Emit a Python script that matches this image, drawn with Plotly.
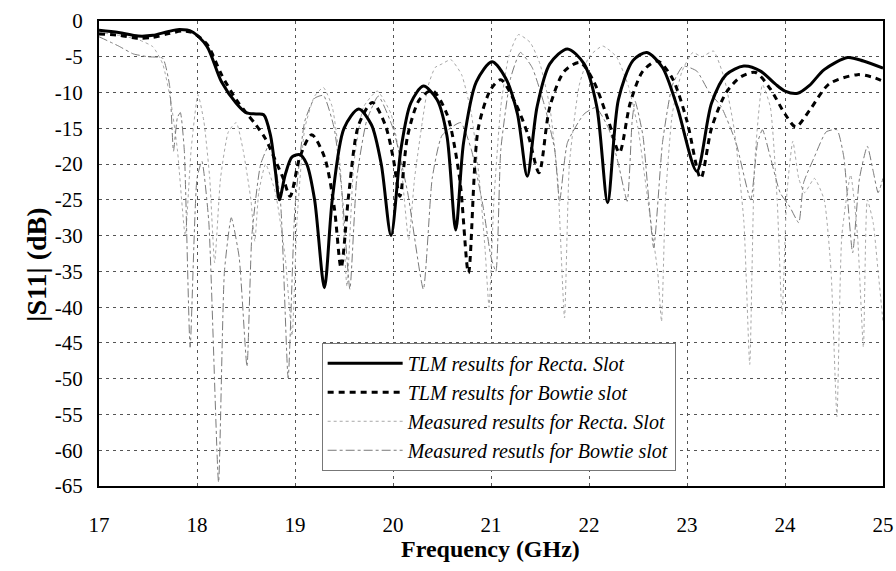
import plotly.graph_objects as go

# TLM results, rectangular slot (solid)
tlm_recta_f = [17.0, 17.2, 17.4, 17.55, 17.7, 17.82, 17.95, 18.1, 18.25, 18.4, 18.5, 18.6, 18.68, 18.75, 18.8, 18.84,
               18.9, 18.97, 19.05, 19.12, 19.2, 19.3, 19.38, 19.5, 19.65, 19.78, 19.88, 19.98, 20.08, 20.18, 20.31,
               20.45, 20.55, 20.64, 20.72, 20.85, 21.01, 21.15, 21.27, 21.37, 21.47, 21.6, 21.78, 21.95, 22.08, 22.19,
               22.3, 22.45, 22.59, 22.75, 22.9, 23.1, 23.25, 23.4, 23.58, 23.75, 23.9, 24.0, 24.13, 24.25, 24.4,
               24.64, 24.8, 25.0]
tlm_recta_db = [-1.3, -1.6, -2.1, -2.0, -1.5, -1.2, -1.5, -3.5, -8.5, -11.5, -12.8, -13.0, -13.1, -16, -21, -25,
                -21.5, -19, -18.7, -20, -25, -37.3, -25, -15, -12.3, -14.5, -20, -30, -18, -11.5, -9.1,
                -11, -16, -29.2, -17, -8.5, -5.7, -8, -13, -21.7, -12, -6, -3.9, -6, -12, -25.4,
                -11, -5.5, -4.4, -6.5, -12, -21, -11.5, -7.5, -6.3, -7.0, -8.8, -9.8, -10.1, -9.0, -6.8,
                -5.1, -5.6, -6.6]

# TLM results, bowtie slot (dashed)
tlm_bow_f = [17.0, 17.2, 17.4, 17.55, 17.7, 17.85, 17.95, 18.1, 18.25, 18.4, 18.5, 18.6, 18.7, 18.8, 18.88, 18.95,
             19.05, 19.17, 19.3, 19.4, 19.47, 19.55, 19.65, 19.79, 19.92, 20.0, 20.07, 20.15, 20.27, 20.4, 20.55,
             20.68, 20.77, 20.87, 21.0, 21.1, 21.25, 21.38, 21.49, 21.6, 21.75, 21.91, 22.05, 22.2, 22.31, 22.42,
             22.55, 22.7, 22.85, 23.0, 23.14, 23.25, 23.4, 23.55, 23.7, 23.85, 24.0, 24.11, 24.25, 24.45, 24.74,
             24.88, 25.0]
tlm_bow_db = [-1.8, -2.0, -2.4, -2.3, -1.8, -1.4, -1.6, -3.2, -7.5, -11, -12.8, -14.5, -16.5, -19.5, -22, -24.5,
              -19, -15.9, -19, -26, -34.5, -24, -14.5, -11.4, -14.5, -19, -24.5, -16, -11, -9.7, -13,
              -22, -35.2, -15, -9.5, -8.2, -11.5, -16, -21.2, -12, -7, -5.8, -8.5, -14, -18.4, -11.5,
              -7, -5.6, -8, -14, -22, -15, -10, -7.8, -7.2, -9.5, -13, -14.8, -12.5, -8.8, -7.5,
              -7.8, -8.4]

# Measured results, rectangular slot (light dotted)
meas_recta_f = [17.0, 17.2, 17.4, 17.55, 17.65, 17.73, 17.8, 17.88, 17.94, 18.01, 18.07, 18.13, 18.18, 18.24, 18.32,
                18.4, 18.47, 18.55, 18.59, 18.63, 18.7, 18.8, 18.9, 18.97, 19.02, 19.1, 19.2, 19.29, 19.38, 19.46,
                19.53, 19.6, 19.7, 19.84, 19.98, 20.08, 20.16, 20.22, 20.3, 20.36, 20.43, 20.5, 20.59, 20.7, 20.8,
                20.88, 20.94, 20.98, 21.03, 21.1, 21.18, 21.28, 21.4, 21.5, 21.6, 21.68, 21.75, 21.8, 21.9, 22.0,
                22.14, 22.28, 22.4, 22.5, 22.6, 22.7, 22.74, 22.78, 22.85, 22.95, 23.06, 23.15, 23.27, 23.38, 23.48,
                23.58, 23.64, 23.69, 23.77, 23.85, 23.92, 23.97, 24.02, 24.08, 24.14, 24.2, 24.3, 24.4, 24.47, 24.53,
                24.58, 24.67, 24.74, 24.8, 24.84, 24.9, 24.95, 25.0]
meas_recta_db = [-1.6, -2.0, -2.6, -3.6, -6.0, -11, -18, -30, -18, -10.3, -14, -22, -33.8, -22, -15.5,
                 -14.2, -18, -25, -30.8, -24, -20, -24, -33, -44, -28, -15, -10.5, -9.3, -12, -20,
                 -37.1, -20, -12, -9.8, -13, -20, -30.6, -22, -14, -9, -6.5, -6.0, -5.4, -7.5, -13,
                 -22, -32, -40, -25, -12, -5, -1.9, -3, -6, -12, -22, -41.5, -20, -9, -5,
                 -3.5, -5, -9, -15, -25, -35, -42, -25, -13, -7, -4.4, -5, -4.2, -8, -15,
                 -28, -48, -20, -8.9, -12, -25, -41, -24, -16.8, -22, -24, -22, -25, -35, -55.3,
                 -30, -21.5, -30, -45.6, -25, -28.2, -35, -42]

# Measured results, bowtie slot (gray dash-dot)
meas_bow_f = [17.0, 17.2, 17.35, 17.5, 17.65, 17.72, 17.76, 17.8, 17.83, 17.87, 17.93, 18.0, 18.05, 18.12, 18.22,
              18.28, 18.35, 18.43, 18.51, 18.56, 18.65, 18.75, 18.85, 18.93, 19.0, 19.1, 19.2, 19.29, 19.4, 19.48,
              19.56, 19.63, 19.73, 19.85, 20.0, 20.15, 20.31, 20.4, 20.5, 20.69, 20.8, 20.92, 21.0, 21.05, 21.1,
              21.2, 21.3, 21.42, 21.55, 21.65, 21.7, 21.78, 21.95, 22.07, 22.2, 22.3, 22.39, 22.44, 22.47, 22.55,
              22.66, 22.75, 22.85, 22.96, 23.1, 23.22, 23.35, 23.5, 23.65, 23.72, 23.77, 23.85, 23.95, 24.05, 24.14,
              24.19, 24.3, 24.42, 24.53, 24.6, 24.69, 24.76, 24.84, 24.9, 24.95, 25.0]
meas_bow_db = [-2.2, -3.5, -4.6, -5.0, -5.2, -9, -18.2, -13.5, -12.8, -18, -45.6, -22, -19.6, -28, -64.5,
               -35, -27.5, -33, -48.3, -30, -20, -17, -25, -49.9, -26, -14, -10.8, -10.4, -15, -24,
               -37.5, -22, -14, -10.5, -15, -24, -37.5, -22, -16, -14.2, -18, -26, -33, -35, -18,
               -8, -4.4, -6.5, -12, -18, -25.2, -17, -13, -12.1, -15, -20, -25.2, -14, -11.2, -16,
               -31.7, -17, -9, -6.3, -7, -9.8, -12, -17, -25, -17, -15.2, -19, -24, -26, -28.2,
               -22.6, -19, -15.5, -15.2, -19, -32.4, -22, -17.5, -21, -24, -22]

x_ticks = [17, 18, 19, 20, 21, 22, 23, 24, 25]
y_ticks = [0, -5, -10, -15, -20, -25, -30, -35, -40, -45, -50, -55, -60, -65]

legend_names = ["TLM results for Recta. Slot", "TLM results for Bowtie slot",
                "Measured results for Recta. Slot", "Measured resutls for Bowtie slot"]
x_title = "Frequency (GHz)"
y_title = "|S11| (dB)"

SERIF = "serif"

fig = go.Figure()
fig.add_trace(go.Scatter(x=meas_recta_f, y=meas_recta_db, mode="lines", name=legend_names[2], legendrank=3,
                         line=dict(color="#a8a8a8", width=1, dash="dot", shape="spline", smoothing=0.5)))
fig.add_trace(go.Scatter(x=meas_bow_f, y=meas_bow_db, mode="lines", name=legend_names[3], legendrank=4,
                         line=dict(color="#7a7a7a", width=1, dash="dashdot", shape="spline", smoothing=0.5)))
fig.add_trace(go.Scatter(x=tlm_recta_f, y=tlm_recta_db, mode="lines", name=legend_names[0], legendrank=1,
                         line=dict(color="black", width=3, shape="spline", smoothing=0.8)))
fig.add_trace(go.Scatter(x=tlm_bow_f, y=tlm_bow_db, mode="lines", name=legend_names[1], legendrank=2,
                         line=dict(color="black", width=3, dash="6px,5px", shape="spline", smoothing=0.8)))

fig.update_layout(
    width=896, height=571,
    margin=dict(l=99, r=13, t=21, b=85, autoexpand=False),
    paper_bgcolor="white", plot_bgcolor="white",
    font=dict(family=SERIF, color="black", size=20),
    showlegend=True,
    legend=dict(x=0.284, y=0.308, xanchor="left", yanchor="top",
                bgcolor="white", bordercolor="#777777", borderwidth=1,
                font=dict(family=SERIF, size=20, style="italic"),
                itemwidth=75, traceorder="normal", tracegroupgap=0),
    xaxis=dict(range=[17, 25], tickvals=x_ticks, ticktext=[str(v) for v in x_ticks],
               tickfont=dict(family=SERIF, size=21), automargin=False,
               showgrid=True, gridcolor="#555555", gridwidth=1, griddash="3px,4px",
               showline=True, linecolor="black", linewidth=2, mirror=True,
               ticks="", ticklabelstandoff=19, zeroline=False),
    yaxis=dict(range=[-65, 0], tickvals=y_ticks, ticktext=[str(v) for v in y_ticks],
               tickfont=dict(family=SERIF, size=21), automargin=False,
               showgrid=True, gridcolor="#555555", gridwidth=1, griddash="3px,4px",
               showline=True, linecolor="black", linewidth=2, mirror=True,
               ticks="", ticklabelstandoff=10, zeroline=False),
    annotations=[
        dict(text="<b>" + x_title + "</b>", xref="paper", yref="paper", x=0.499, y=-0.135,
             xanchor="center", yanchor="middle", showarrow=False, font=dict(family=SERIF, size=24)),
        dict(text="<b>" + y_title + "</b>", xref="paper", yref="paper", x=-0.079, y=0.476,
             xanchor="center", yanchor="middle", showarrow=False, textangle=-90,
             font=dict(family=SERIF, size=28)),
    ],
)

fig.write_html("out.html", config={"displayModeBar": False},
               post_script="document.body.style.margin='0px';")
